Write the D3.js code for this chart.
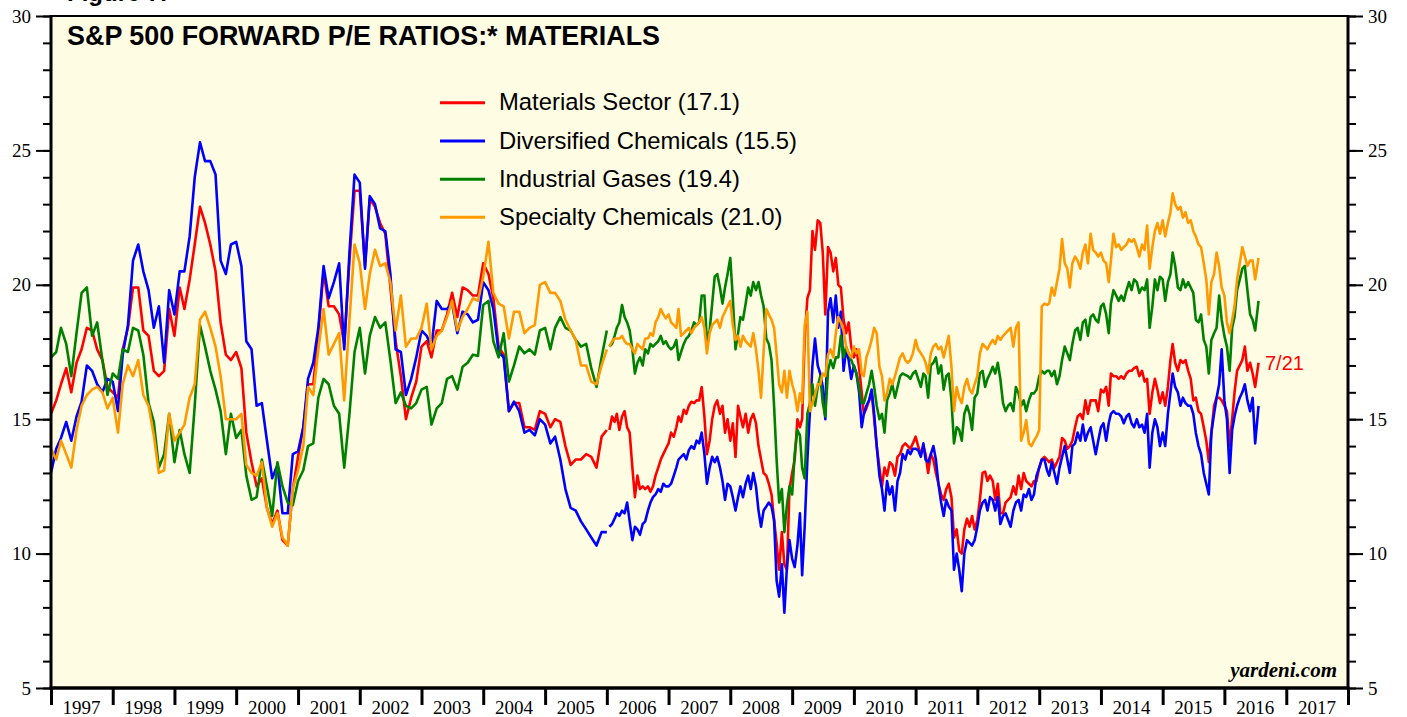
<!DOCTYPE html>
<html>
<head>
<meta charset="utf-8">
<script src="https://cdn.jsdelivr.net/npm/d3@7"></script>
<style>
  body { margin: 0; background: #fff; }
  svg { display: block; }
</style>
</head>
<body>
<svg id="chart" width="1407" height="717"></svg>
<script>
// ---- data ----
// monthly readings, Jan 1997 .. Jan 2006
const materialsMonthly = [15.2, 15.7, 16.3, 16.9, 16.0, 17.1, 17.6, 18.4, 18.3, 17.6,
  17.2, 16.2, 16.0, 15.8, 17.6, 18.4, 19.9, 19.9, 18.3, 18.1,
  16.8, 16.6, 16.8, 19.1, 18.1, 19.9, 19.1, 20.2, 21.5, 22.9,
  22.3, 21.5, 20.5, 18.6, 17.4, 17.2, 17.5, 16.9, 14.5, 13.4,
  12.5, 12.8, 11.7, 11.1, 11.6, 10.5, 10.3, 12.4, 13.6, 14.7,
  16.3, 16.3, 18.2, 20.5, 19.2, 19.2, 18.9, 17.8, 20.9, 23.5,
  23.5, 20.7, 23.2, 22.9, 22.3, 21.9, 19.9, 17.9, 16.6, 15.0,
  15.8, 16.4, 17.7, 17.9, 17.3, 18.3, 18.3, 18.9, 19.7, 18.8,
  19.9, 19.8, 19.6, 19.6, 20.8, 20.4, 19.5, 17.7, 17.4, 15.3,
  15.6, 15.6, 14.7, 14.7, 14.6, 15.3, 15.2, 14.7, 15.0, 14.9,
  14.0, 13.3, 13.5, 13.5, 13.7, 13.6, 13.2, 14.35, 14.6];
const diversifiedMonthly = [13.0, 13.9, 14.3, 14.9, 14.2, 15.1, 15.65, 17.0, 16.8, 16.3,
  16.0, 16.5, 16.4, 15.3, 17.4, 18.5, 20.9, 21.5, 20.5, 19.8,
  18.4, 19.2, 17.1, 19.8, 18.9, 20.5, 20.5, 21.8, 24.0, 25.3,
  24.6, 24.6, 24.1, 20.9, 20.4, 21.5, 21.6, 20.7, 17.9, 17.6,
  15.5, 15.6, 14.2, 12.8, 13.3, 11.5, 11.5, 13.7, 13.8, 14.7,
  16.5, 17.1, 18.4, 20.7, 19.5, 20.1, 20.8, 17.6, 21.2, 24.1,
  23.8, 20.6, 23.3, 23.0, 22.1, 22.0, 20.4, 17.6, 17.5, 15.9,
  16.5, 17.3, 18.3, 18.1, 17.7, 19.4, 19.1, 19.1, 19.3, 18.2,
  19.0, 18.9, 18.6, 18.7, 20.1, 19.8, 19.1, 17.5, 17.3, 15.3,
  15.65, 15.3, 14.5, 14.6, 14.4, 15.0, 14.8, 14.1, 14.35, 13.5,
  12.4, 11.7, 11.6, 11.2, 10.9, 10.6, 10.3, 10.8, 10.8];
const gasesMonthly = [17.3, 17.5, 18.4, 17.8, 16.6, 18.2, 19.7, 19.9, 18.1, 18.6,
  17.2, 15.9, 16.7, 16.5, 17.6, 17.5, 18.4, 18.3, 17.4, 15.6,
  14.9, 13.2, 13.7, 15.2, 13.4, 14.6, 13.7, 13.0, 15.5, 18.5,
  17.7, 16.8, 16.1, 15.3, 13.7, 15.2, 14.3, 14.6, 12.9, 12.0,
  12.1, 13.5, 12.5, 11.4, 13.4, 12.5, 11.9, 11.8, 12.7, 13.1,
  14.0, 14.1, 15.8, 16.5, 16.3, 15.5, 15.2, 13.2, 15.2, 17.5,
  18.4, 16.7, 18.1, 18.8, 18.4, 18.6, 17.2, 15.6, 16.0, 15.5,
  15.4, 15.6, 16.1, 16.2, 14.8, 15.4, 15.6, 16.5, 16.6, 16.1,
  16.95, 17.1, 17.4, 17.35, 19.25, 19.4, 17.9, 17.3, 18.2, 16.4,
  17.0, 17.7, 17.45, 17.6, 17.4, 18.3, 18.4, 17.6, 18.4, 18.8,
  18.4, 18.3, 17.95, 17.7, 17.8, 16.9, 16.2, 17.3, 18.3];
const specialtyMonthly = [13.9, 13.5, 14.2, 13.7, 13.2, 14.6, 15.5, 15.9, 16.1, 16.2,
  16.0, 15.4, 15.8, 14.5, 16.3, 17.0, 16.6, 17.2, 15.9, 15.5,
  14.4, 13.0, 13.1, 15.2, 14.2, 14.5, 14.8, 15.8, 16.3, 18.7,
  19.0, 18.4, 17.7, 16.6, 15.0, 15.0, 15.0, 15.2, 13.3, 13.0,
  12.9, 13.4, 11.7, 11.0, 11.5, 10.6, 10.3, 12.4, 13.1, 14.0,
  16.2, 15.9, 17.6, 19.1, 17.4, 17.8, 18.2, 15.7, 18.7, 21.5,
  20.8, 19.1, 20.4, 21.3, 20.7, 20.8, 20.1, 18.3, 19.6, 17.7,
  18.0, 18.0, 18.4, 19.3, 17.6, 18.1, 18.3, 18.8, 19.4, 18.3,
  18.8, 19.1, 19.5, 19.4, 20.3, 21.6, 19.7, 19.3, 19.2, 18.0,
  19.0, 19.0, 18.2, 18.4, 18.5, 20.0, 20.1, 19.7, 19.7, 19.4,
  18.7, 18.3, 17.95, 17.0, 17.0, 16.4, 16.3, 17.0, 17.6];

// twice-a-month readings, mid-Jan 2006 .. 7/21/2016
const materialsWeekly = [
  14.6, 15.1, 14.9, 15.2, 14.6, 15.1, 15.3, 14.7, 14.5, 13.2, 12.1, 12.9, 12.4, 12.5, 12.4, 12.5, 12.3, 12.5, 12.9, 13.2, 13.5, 13.7, 13.9,
  14.1, 14.5, 14.35, 14.7, 15.1, 14.9, 15.35, 15.2, 15.5, 15.65, 15.6, 15.7, 15.7, 16.2, 15.1, 13.7, 14.2, 15.0, 15.5, 15.7, 15.2, 15.5, 14.5, 15.0,
  14.2, 14.85, 13.6, 15.5, 15.1, 14.7, 15.2, 14.5, 15.0, 15.2, 14.85, 14.0, 13.5, 13.0, 12.9, 12.6, 12.2, 11.25, 10.4, 9.4, 10.8, 9.6, 9.4, 12.4,
  13.0, 13.5, 15.0, 14.7, 15.0, 18.0, 19.5, 19.8, 22.0, 21.3, 22.4, 22.3, 21.2, 18.9, 21.4, 21.2, 20.5, 21.0, 20.0, 19.9, 18.7, 18.2, 18.6, 17.7,
  17.3, 17.6, 16.9, 16.0, 15.2, 15.4, 15.7, 16.0, 15.0, 14.0, 13.2, 12.5, 13.2, 12.9, 13.4, 13.3, 12.9, 13.6, 13.7, 14.0, 14.1, 14.0, 13.9, 14.1,
  14.35, 14.0, 13.7, 14.0, 13.7, 13.0, 13.7, 13.5, 13.0, 12.6, 12.2, 12.0, 12.4, 12.6, 12.1, 10.6, 10.9, 10.1, 10.0, 10.9, 11.3, 11.0, 11.4, 10.9,
  11.25, 12.0, 13.0, 13.05, 12.7, 12.9, 12.7, 12.0, 12.6, 11.5, 11.5, 11.9, 12.0, 12.1, 12.5, 12.2, 12.9, 12.4, 13.0, 12.7, 12.6, 12.5, 12.7, 12.7,
  13.2, 13.5, 13.6, 13.5, 13.4, 13.5, 13.2, 13.4, 13.6, 14.3, 14.2, 13.9, 14.0, 14.2, 14.7, 15.1, 15.2, 15.0, 15.7, 15.2, 15.7, 15.7, 15.7, 15.3,
  16.1, 16.0, 16.2, 15.5, 16.7, 16.6, 16.6, 16.5, 16.6, 16.5, 16.7, 16.8, 16.8, 16.9, 16.95, 16.6, 16.8, 16.4, 16.5, 15.2, 16.0, 16.5, 16.1, 15.6,
  16.0, 15.5, 16.2, 17.2, 17.8, 17.1, 16.8, 17.2, 17.1, 17.2, 16.8, 16.5, 15.7, 15.8, 15.3, 15.2, 14.7, 14.2, 13.4, 14.5, 15.5, 15.8, 15.8, 15.7,
  15.5, 15.3, 14.0, 15.0, 16.0, 16.8, 17.0, 17.2, 17.7, 16.8, 17.1, 16.7, 16.2, 17.1];
const diversifiedWeekly = [
  11.0, 11.1, 11.3, 11.5, 11.4, 11.6, 11.5, 11.9, 11.2, 10.5, 11.0, 10.9, 10.7, 11.1, 11.2, 11.6, 11.9, 12.1, 12.2, 12.4, 12.3, 12.6, 12.5,
  12.5, 12.6, 12.9, 13.2, 13.5, 13.6, 13.7, 13.5, 13.85, 14.0, 13.9, 14.2, 14.1, 14.5, 13.7, 12.6, 13.2, 13.6, 13.4, 13.6, 13.2, 12.7, 12.0, 12.6,
  12.5, 12.1, 11.6, 12.1, 12.5, 12.1, 12.6, 12.9, 12.4, 13.0, 12.5, 11.6, 11.0, 11.6, 11.75, 11.9, 11.75, 11.25, 9.0, 8.4, 9.6, 7.8, 9.5, 10.5,
  9.8, 9.5, 10.3, 11.5, 9.2, 11.0, 13.5, 15.3, 17.0, 18.0, 17.0, 16.7, 16.2, 15.0, 19.0, 19.5, 18.6, 19.6, 18.4, 19.0, 16.8, 17.6, 17.2, 16.5,
  17.0, 16.7, 16.0, 14.7, 15.2, 15.5, 15.7, 16.1, 15.2, 14.0, 12.9, 12.4, 11.6, 12.7, 12.2, 12.5, 11.6, 12.7, 13.0, 13.7, 13.5, 13.85, 13.7, 13.9,
  13.9, 13.85, 13.6, 14.1, 13.5, 13.4, 13.7, 14.0, 13.5, 12.6, 11.9, 11.4, 12.0, 11.75, 11.6, 9.4, 10.0, 9.4, 8.6, 10.0, 10.5, 10.4, 10.3, 10.5,
  11.0, 11.6, 11.9, 12.0, 11.6, 12.1, 12.0, 11.6, 12.1, 11.1, 11.4, 11.5, 11.25, 11.0, 11.6, 11.9, 12.0, 11.6, 12.2, 12.1, 12.4, 12.0, 12.2, 12.9,
  13.2, 13.5, 13.5, 13.1, 12.9, 13.4, 13.0, 12.6, 13.2, 13.6, 14.0, 13.5, 13.0, 14.0, 14.1, 14.5, 14.2, 14.8, 14.2, 14.5, 14.7, 14.2, 13.7, 14.2,
  14.7, 14.85, 14.2, 14.85, 15.2, 15.3, 15.2, 15.2, 15.1, 14.85, 15.1, 15.2, 14.85, 14.7, 15.0, 14.7, 14.8, 14.5, 15.2, 13.2, 14.5, 15.0, 14.7, 14.0,
  14.5, 14.0, 15.2, 16.0, 16.7, 16.2, 16.0, 15.5, 15.8, 15.6, 15.5, 15.5, 15.2, 14.5, 14.0, 13.7, 13.0, 12.6, 12.2, 14.5, 15.2, 15.8, 16.3, 17.6,
  15.7, 15.0, 13.0, 14.6, 15.1, 15.5, 15.8, 16.0, 16.3, 15.7, 15.3, 15.8, 14.1, 15.5];
const gasesWeekly = [
  17.7, 17.8, 18.1, 18.4, 18.6, 19.25, 18.8, 18.6, 18.3, 17.6, 16.7, 17.1, 17.3, 17.0, 17.6, 17.45, 17.8, 17.7, 17.8, 17.9, 18.1, 17.8, 17.9,
  17.7, 17.6, 17.7, 17.95, 17.2, 17.5, 17.8, 18.0, 18.1, 18.3, 18.6, 18.5, 18.6, 19.6, 19.6, 17.9, 18.3, 19.3, 20.3, 20.4, 19.9, 19.3, 19.9, 20.4,
  21.0, 19.5, 17.6, 18.2, 18.8, 18.7, 19.3, 19.9, 19.6, 20.1, 19.8, 20.1, 19.6, 19.2, 18.0, 17.8, 17.2, 15.5, 13.5, 11.9, 12.4, 10.8, 11.8, 12.5,
  12.2, 13.7, 14.6, 14.4, 13.2, 12.8, 15.2, 15.6, 16.3, 15.5, 16.2, 16.6, 15.6, 15.1, 16.8, 17.2, 16.9, 17.3, 17.3, 18.1, 17.3, 17.7, 17.45, 17.2,
  16.95, 16.7, 16.2, 15.6, 15.6, 15.96, 16.3, 16.8, 16.2, 15.5, 15.0, 15.2, 14.5, 15.7, 15.96, 16.3, 15.8, 16.2, 16.6, 16.7, 16.65, 16.6, 16.5, 16.7,
  16.8, 16.5, 16.2, 16.7, 16.6, 15.8, 17.0, 17.1, 17.3, 16.7, 17.0, 16.1, 16.6, 16.7, 15.7, 14.1, 14.7, 14.6, 14.2, 15.2, 15.5, 15.2, 14.6, 15.8,
  15.96, 16.7, 16.8, 16.2, 16.5, 16.7, 16.95, 16.7, 17.1, 16.5, 15.6, 15.3, 15.5, 15.6, 15.3, 16.2, 15.96, 15.5, 15.7, 15.3, 15.7, 15.96, 15.96, 16.1,
  16.6, 16.8, 16.7, 16.8, 16.8, 16.6, 16.8, 16.3, 16.6, 17.2, 17.7, 17.45, 17.2, 17.8, 18.3, 18.4, 17.95, 18.6, 18.7, 18.1, 18.8, 18.9, 18.7, 18.6,
  19.2, 19.3, 18.9, 18.2, 19.3, 19.8, 19.6, 19.4, 19.6, 19.4, 19.8, 20.1, 19.8, 20.2, 20.1, 19.7, 19.9, 19.8, 20.2, 18.4, 19.2, 20.2, 19.8, 20.3,
  20.2, 19.4, 20.1, 20.4, 21.2, 20.7, 19.9, 19.8, 20.2, 19.9, 20.1, 19.9, 19.7, 18.7, 18.6, 18.9, 17.95, 17.7, 16.7, 17.95, 18.2, 18.4, 19.6, 18.7,
  18.1, 17.7, 16.8, 18.4, 18.8, 19.8, 20.2, 20.6, 20.7, 19.8, 18.9, 18.7, 18.3, 19.4];
const specialtyWeekly = [
  17.7, 17.9, 18.0, 18.0, 18.0, 18.1, 17.9, 17.8, 17.8, 17.6, 17.45, 17.8, 17.7, 17.6, 18.0, 18.0, 18.2, 18.1, 18.6, 18.8, 19.1, 18.9, 18.75,
  18.9, 18.6, 18.5, 18.4, 19.1, 18.1, 18.2, 18.3, 18.4, 18.2, 18.4, 18.5, 18.6, 18.8, 18.4, 17.45, 18.2, 18.5, 18.6, 18.7, 18.4, 18.8, 19.0, 19.2,
  19.4, 18.5, 17.95, 18.1, 17.7, 18.1, 17.9, 17.8, 17.7, 18.2, 17.6, 16.8, 15.8, 17.5, 19.1, 18.9, 18.7, 18.4, 17.4, 16.3, 16.0, 16.8, 15.8, 16.8,
  16.3, 15.96, 15.3, 15.96, 15.6, 18.5, 19.0, 15.3, 15.6, 15.9, 16.3, 16.3, 16.7, 16.6, 17.4, 17.6, 17.3, 18.2, 18.8, 18.6, 18.3, 17.7, 17.45, 17.3,
  17.7, 17.45, 17.6, 16.7, 16.6, 17.3, 17.6, 17.95, 18.4, 18.2, 16.95, 16.6, 15.7, 15.96, 16.5, 16.3, 16.6, 16.95, 17.3, 17.45, 17.2, 17.1, 17.2, 17.45,
  17.95, 17.6, 17.45, 17.3, 17.1, 16.7, 17.45, 17.7, 17.8, 17.6, 17.7, 17.3, 17.7, 18.1, 16.95, 15.3, 16.2, 15.8, 15.6, 16.2, 16.5, 16.1, 15.96, 16.3,
  16.6, 17.45, 17.8, 17.7, 17.6, 17.8, 17.95, 17.8, 18.1, 17.95, 18.1, 18.2, 18.3, 18.4, 17.7, 18.4, 18.6, 14.2, 14.5, 14.97, 14.1, 14.0, 14.2, 14.35,
  14.6, 19.2, 19.3, 19.25, 19.3, 19.9, 19.6, 20.1, 20.6, 21.7, 20.8, 20.6, 19.9, 20.8, 21.05, 20.9, 20.6, 21.2, 21.5, 20.8, 21.9, 21.3, 21.2, 21.05,
  21.2, 20.9, 20.8, 20.1, 20.9, 21.9, 21.4, 21.5, 21.3, 21.4, 21.5, 21.7, 21.6, 21.7, 21.4, 21.05, 21.5, 21.3, 22.2, 20.6, 21.4, 22.0, 22.3, 21.9,
  22.4, 21.8, 22.3, 22.7, 23.4, 23.0, 22.8, 22.9, 22.5, 22.7, 22.3, 22.4, 22.0, 21.8, 21.5, 21.4, 20.8, 20.2, 18.9, 20.1, 20.4, 21.2, 20.7, 19.9,
  19.6, 18.6, 18.2, 18.7, 19.2, 20.2, 20.8, 21.4, 21.05, 20.7, 20.9, 20.9, 20.2, 21.0];

const seriesNames = ["Materials Sector (17.1)", "Diversified Chemicals (15.5)", "Industrial Gases (19.4)", "Specialty Chemicals (21.0)"];
const seriesColors = ["#ff0000", "#0000ff", "#008000", "#ff9900"];
const yearLabels = d3.range(1997, 2018);
const yTicksMajor = [5, 10, 15, 20, 25, 30];
const yTicksMinor = d3.range(5, 31);

// dates for the readings
const monthlyDates = materialsMonthly.map((v, i) => new Date(1997, i, 1));
const weeklyDates = d3.range(1, 253).map(k => new Date(2006, Math.floor(k / 2), k % 2 ? 16 : 1))
  .concat([new Date(2016, 6, 21)]);

// ---- layout ----
const W = 1407, H = 717;
const plot = { left: 51, right: 1348, top: 16, bottom: 688 };

const svg = d3.select("#chart");

const x = d3.scaleTime()
  .domain([new Date(1997, 0, 1), new Date(2018, 0, 1)])
  .range([plot.left, plot.right]);
const y = d3.scaleLinear()
  .domain([5, 30])
  .range([plot.bottom, plot.top]);

// shrink/grow a text so it spans the given width
function fitWidth(sel, width) {
  const fs = parseFloat(sel.attr("font-size"));
  const w = sel.node().getComputedTextLength();
  sel.attr("font-size", (fs * width / w).toFixed(2));
}

// plot background
svg.append("rect")
  .attr("x", plot.left).attr("y", plot.top)
  .attr("width", plot.right - plot.left).attr("height", plot.bottom - plot.top)
  .attr("fill", "#fefde4");

// figure caption at the very top (mostly above the page edge, as in the original)
svg.append("text")
  .attr("x", 67).attr("y", 1)
  .attr("font-family", "Liberation Sans, Arial, sans-serif")
  .attr("font-weight", "bold").attr("font-size", 24)
  .text("Figure 7.");

// y axes: minor and major ticks, left and right
function yAxis(gen, size, labels) {
  return gen(y).tickValues(labels ? yTicksMajor : yTicksMinor)
    .tickSize(size).tickPadding(5)
    .tickFormat(labels ? d3.format("d") : "");
}
[[d3.axisLeft, plot.left], [d3.axisRight, plot.right]].forEach(([gen, xpos]) => {
  svg.append("g").attr("transform", `translate(${xpos},0)`)
    .call(yAxis(gen, 8, false))
    .call(g => g.select(".domain").remove())
    .call(g => g.selectAll(".tick line").attr("stroke", "#000").attr("stroke-width", 2));
  svg.append("g").attr("transform", `translate(${xpos},0)`)
    .call(yAxis(gen, 15, true))
    .call(g => g.select(".domain").remove())
    .call(g => g.selectAll(".tick line").attr("stroke", "#000").attr("stroke-width", 2))
    .call(g => g.selectAll(".tick text")
      .attr("font-family", "Liberation Serif, Times New Roman, serif")
      .attr("font-size", 19).attr("fill", "#000"));
});

// x axis: year boundary ticks and centred year labels
svg.append("g").attr("transform", `translate(0,${plot.bottom})`)
  .call(d3.axisBottom(x).ticks(d3.timeYear.every(1)).tickSize(17).tickFormat(""))
  .call(g => g.select(".domain").remove())
  .call(g => g.selectAll(".tick line").attr("stroke", "#000").attr("stroke-width", 3));

svg.append("g").selectAll("text")
  .data(yearLabels).join("text")
  .attr("x", d => x(new Date(d, 6, 1)))
  .attr("y", 714)
  .attr("text-anchor", "middle")
  .attr("font-family", "Liberation Serif, Times New Roman, serif")
  .attr("font-size", 19)
  .text(d => d);

// lines
svg.append("clipPath").attr("id", "clip")
  .append("rect")
  .attr("x", plot.left).attr("y", plot.top)
  .attr("width", plot.right - plot.left).attr("height", plot.bottom - plot.top);

const line = d3.line()
  .x(d => x(d[0]))
  .y(d => y(d[1]));

const monthly = [materialsMonthly, diversifiedMonthly, gasesMonthly, specialtyMonthly];
const weekly = [materialsWeekly, diversifiedWeekly, gasesWeekly, specialtyWeekly];

const lines = svg.append("g").attr("clip-path", "url(#clip)");
monthly.forEach((vals, i) => {
  const segs = [
    d3.zip(monthlyDates, vals),
    d3.zip(weeklyDates, weekly[i])
  ];
  segs.forEach(seg => {
    lines.append("path")
      .datum(seg)
      .attr("fill", "none")
      .attr("stroke", seriesColors[i])
      .attr("stroke-width", 2.6)
      .attr("stroke-linejoin", "round")
      .attr("d", line);
  });
});

// frame
const frame = svg.append("g").attr("stroke", "#000").attr("fill", "none");
frame.append("line").attr("x1", plot.left - 1).attr("x2", plot.right + 1)
  .attr("y1", plot.top).attr("y2", plot.top).attr("stroke-width", 2);
frame.append("line").attr("x1", plot.left - 1.5).attr("x2", plot.right + 1.5)
  .attr("y1", plot.bottom).attr("y2", plot.bottom).attr("stroke-width", 3.5);
frame.append("line").attr("x1", plot.left).attr("x2", plot.left)
  .attr("y1", plot.top - 1).attr("y2", plot.bottom).attr("stroke-width", 3);
frame.append("line").attr("x1", plot.right).attr("x2", plot.right)
  .attr("y1", plot.top - 1).attr("y2", plot.bottom).attr("stroke-width", 3);

// title
const title = svg.append("text")
  .attr("x", 67).attr("y", 45)
  .attr("font-family", "Liberation Sans, Arial, sans-serif")
  .attr("font-weight", "bold").attr("font-size", 24)
  .text("S&P 500 FORWARD P/E RATIOS:* MATERIALS");
fitWidth(title, 593);

// legend
const legendY = [102.7, 141, 179.3, 217.3];
const legend = svg.append("g");
seriesNames.forEach((name, i) => {
  legend.append("line")
    .attr("x1", 440).attr("x2", 485)
    .attr("y1", legendY[i]).attr("y2", legendY[i])
    .attr("stroke", seriesColors[i]).attr("stroke-width", 3);
  legend.append("text")
    .attr("class", "legend-label")
    .attr("x", 499).attr("y", legendY[i] + 7.5)
    .attr("font-family", "Liberation Sans, Arial, sans-serif")
    .attr("font-size", 20).attr("fill", "#000")
    .text(name);
});
const longest = legend.selectAll(".legend-label").filter((d, i) => i === 1);
fitWidth(longest, 298);
legend.selectAll(".legend-label").attr("font-size", longest.attr("font-size"));

// last date label
svg.append("text")
  .attr("x", 1265).attr("y", 370)
  .attr("font-family", "Liberation Sans, Arial, sans-serif")
  .attr("font-size", 20).attr("fill", "#ff0000")
  .text("7/21");

// source
svg.append("text")
  .attr("x", 1337).attr("y", 677)
  .attr("text-anchor", "end")
  .attr("font-family", "Liberation Serif, Times New Roman, serif")
  .attr("font-weight", "bold").attr("font-style", "italic")
  .attr("font-size", 21)
  .text("yardeni.com");
</script>
</body>
</html>
